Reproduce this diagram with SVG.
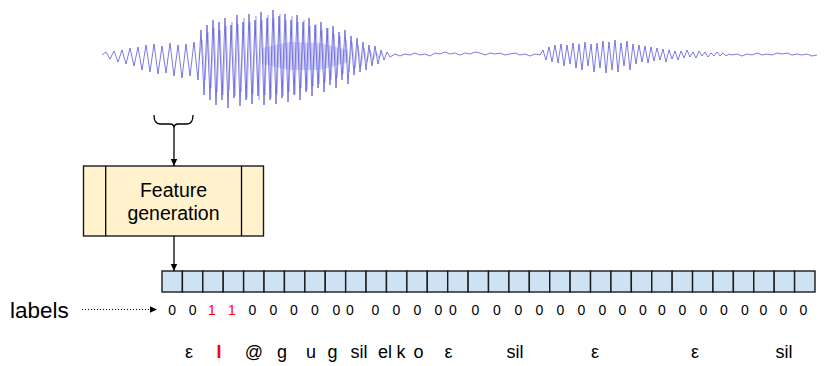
<svg xmlns="http://www.w3.org/2000/svg" width="830" height="366" viewBox="0 0 830 366">
<style>
text{font-family:"Liberation Sans",Arial,sans-serif;fill:#000}
.wave{fill:none;stroke:#4f4fd6;stroke-width:0.75;stroke-linejoin:round}
.wave2{fill:none;stroke:#a4a4e6;stroke-width:0.7;stroke-linejoin:round}
.cell{fill:#cfe2f3;stroke:#1a1a1a;stroke-width:1.4}
.box{fill:#fff2cc;stroke:#1a1a1a;stroke-width:1.4}
.conn{fill:none;stroke:#000;stroke-width:1.3}
.dot{fill:none;stroke:#000;stroke-width:1.2;stroke-dasharray:1 2}
.lbl{font-size:14px;text-anchor:middle}
.red{fill:#ff0000}
.ph{font-size:18px;text-anchor:middle}
</style>
<defs>
<marker id="ah" markerWidth="8" markerHeight="8" refX="7" refY="4" orient="auto" markerUnits="userSpaceOnUse">
<path d="M0,0.8 L7,4 L0,7.2 Z" fill="#000"/>
</marker>
</defs>
<g id="waveform">
<polygon points="262,48 290,42 320,43 348,50 348,62 320,70 290,70 262,64" fill="#8c8cf5" opacity="0.35"/>
<polyline class="wave2" points="199,60 202,40 205,80 208,32 211,88 214,28 217,92 220,30 223,95 226,26 229,90 232,22 235,96 238,24 241,92 244,18 247,98 250,22 253,94 256,16 259,100 262,20 265,95 268,15 271,98 274,18 277,94 280,14 283,96 286,20 289,92 292,16 295,94 298,22 301,88 304,20 307,90 310,26 313,86 316,24 319,84 322,30 325,82 328,28 331,80 334,34 337,78 340,36 343,74 346,40 349,72 352,42 355,68 358,45 361,66 364,48 367,62 370,50 373,60 376,52 379,58 382,53"/>
<polyline class="wave" points="102,55 106,52 110,59 114,51 118,62 122,50 126,64 130,48 134,66 138,47 142,70 146,45 150,72 154,44 158,74 162,46 166,73 170,43 174,76 178,45 182,78 186,44 190,76 194,42 198,80 201,30 204,95 207,25 210,100 213,20 216,105 219,22 222,100 225,18 228,108 231,25 234,98 237,15 240,106 243,22 246,100 249,14 252,104 255,20 258,96 261,12 264,105 267,18 270,100 273,10 276,104 279,16 282,98 285,14 288,102 291,20 294,95 297,15 300,100 303,22 306,92 309,18 312,96 315,25 318,88 321,22 324,92 327,28 330,85 333,26 336,88 339,32 342,80 345,30 348,84 351,36 354,75 357,38 360,72 363,42 366,70 369,45 372,66 375,46 378,64 381,50 384,60 387,52 390,57 395,54 400,56 405,54 410,55 415,53 420,55 425,54 430,56 435,53 440,54 445,52 450,54 455,53 460,55 465,53 470,54 475,52 480,53 485,55 490,53 495,54 500,53 505,55 510,54 515,53 520,55 525,54 530,56 535,54 540,55 543,50 546,60 549,47 552,62 555,45 558,63 561,44 564,66 567,45 570,64 573,43 576,68 579,44 582,70 585,42 588,66 591,44 594,72 597,43 600,68 603,41 606,73 609,42 612,70 615,40 618,72 621,43 624,66 627,41 630,70 633,44 636,64 639,45 642,62 645,46 648,63 651,47 654,61 657,48 660,60 663,49 666,62 669,50 672,59 675,51 678,60 681,51 684,58 687,50 690,57 693,52 696,58 699,51 702,56 705,52 708,57 711,53 714,56 717,52 720,56 723,53 726,56 729,54 732,55 737,54 742,56 747,54 752,55 757,53 762,55 767,54 772,55 777,53 782,54 787,53 792,55 797,54 802,55 807,54 812,56 817,55"/>
</g>
<g id="brace">
<path class="conn" d="M154,115 Q154,124 160,124 L170,124 Q174,124 174,128 Q174,124 178,124 L187,124 Q193,124 193,115"/>
</g>
<g id="feature-generation">
<rect class="box" x="83.5" y="166" width="180" height="70"/>
<line class="conn" x1="105.7" y1="166" x2="105.7" y2="236"/>
<line class="conn" x1="241.5" y1="166" x2="241.5" y2="236"/>
<text x="173.5" y="196.5" font-size="19.5" text-anchor="middle">Feature</text>
<text x="173.5" y="220" font-size="19.5" text-anchor="middle">generation</text>
</g>
<g id="frames">
<rect class="cell" x="162" y="271" width="20.406" height="21"/>
<rect class="cell" x="182.406" y="271" width="20.406" height="21"/>
<rect class="cell" x="202.813" y="271" width="20.406" height="21"/>
<rect class="cell" x="223.219" y="271" width="20.406" height="21"/>
<rect class="cell" x="243.625" y="271" width="20.406" height="21"/>
<rect class="cell" x="264.031" y="271" width="20.406" height="21"/>
<rect class="cell" x="284.438" y="271" width="20.406" height="21"/>
<rect class="cell" x="304.844" y="271" width="20.406" height="21"/>
<rect class="cell" x="325.25" y="271" width="20.406" height="21"/>
<rect class="cell" x="345.656" y="271" width="20.406" height="21"/>
<rect class="cell" x="366.063" y="271" width="20.406" height="21"/>
<rect class="cell" x="386.469" y="271" width="20.406" height="21"/>
<rect class="cell" x="406.875" y="271" width="20.406" height="21"/>
<rect class="cell" x="427.281" y="271" width="20.406" height="21"/>
<rect class="cell" x="447.688" y="271" width="20.406" height="21"/>
<rect class="cell" x="468.094" y="271" width="20.406" height="21"/>
<rect class="cell" x="488.5" y="271" width="20.406" height="21"/>
<rect class="cell" x="508.906" y="271" width="20.406" height="21"/>
<rect class="cell" x="529.313" y="271" width="20.406" height="21"/>
<rect class="cell" x="549.719" y="271" width="20.406" height="21"/>
<rect class="cell" x="570.125" y="271" width="20.406" height="21"/>
<rect class="cell" x="590.531" y="271" width="20.406" height="21"/>
<rect class="cell" x="610.938" y="271" width="20.406" height="21"/>
<rect class="cell" x="631.344" y="271" width="20.406" height="21"/>
<rect class="cell" x="651.75" y="271" width="20.406" height="21"/>
<rect class="cell" x="672.156" y="271" width="20.406" height="21"/>
<rect class="cell" x="692.563" y="271" width="20.406" height="21"/>
<rect class="cell" x="712.969" y="271" width="20.406" height="21"/>
<rect class="cell" x="733.375" y="271" width="20.406" height="21"/>
<rect class="cell" x="753.781" y="271" width="20.406" height="21"/>
<rect class="cell" x="774.188" y="271" width="20.406" height="21"/>
<rect class="cell" x="794.594" y="271" width="20.406" height="21"/>
</g>
<g id="connectors">
<line class="conn" x1="174" y1="128" x2="174" y2="166" marker-end="url(#ah)"/>
<line class="conn" x1="174" y1="236" x2="174" y2="271" marker-end="url(#ah)"/>
<line class="dot" x1="82" y1="309.5" x2="157" y2="309.5" marker-end="url(#ah)"/>
</g>
<g id="labels">
<text x="10" y="318" font-size="22.5">labels</text>
<text class="lbl" x="172.2" y="315">0</text>
<text class="lbl" x="192.6" y="315">0</text>
<text class="lbl red" x="212" y="315">1</text>
<text class="lbl red" x="232" y="315">1</text>
<text class="lbl" x="252.5" y="315">0</text>
<text class="lbl" x="273.5" y="315">0</text>
<text class="lbl" x="294" y="315">0</text>
<text class="lbl" x="314.8" y="315">0</text>
<text class="lbl" x="336.5" y="315">0</text>
<text class="lbl" x="350" y="315">0</text>
<text class="lbl" x="375.5" y="315">0</text>
<text class="lbl" x="396.5" y="315">0</text>
<text class="lbl" x="417.5" y="315">0</text>
<text class="lbl" x="438.5" y="315">0</text>
<text class="lbl" x="453" y="315">0</text>
<text class="lbl" x="475.5" y="315">0</text>
<text class="lbl" x="497" y="315">0</text>
<text class="lbl" x="518.5" y="315">0</text>
<text class="lbl" x="539.5" y="315">0</text>
<text class="lbl" x="560.5" y="315">0</text>
<text class="lbl" x="581.5" y="315">0</text>
<text class="lbl" x="602.5" y="315">0</text>
<text class="lbl" x="622.5" y="315">0</text>
<text class="lbl" x="643" y="315">0</text>
<text class="lbl" x="662" y="315">0</text>
<text class="lbl" x="682.5" y="315">0</text>
<text class="lbl" x="703.3" y="315">0</text>
<text class="lbl" x="724" y="315">0</text>
<text class="lbl" x="745" y="315">0</text>
<text class="lbl" x="763.5" y="315">0</text>
<text class="lbl" x="783.5" y="315">0</text>
<text class="lbl" x="803.5" y="315">0</text>
</g>
<g id="phonemes">
<text class="ph" x="189" y="358">ε</text>
<text class="ph red" x="219" y="358" font-weight="bold">I</text>
<text class="ph" x="254" y="358">@</text>
<text class="ph" x="282" y="358">g</text>
<text class="ph" x="311" y="358">u</text>
<text class="ph" x="332.5" y="358">g</text>
<text class="ph" x="359" y="358">sil</text>
<text class="ph" x="385" y="358">el</text>
<text class="ph" x="401" y="358">k</text>
<text class="ph" x="418.5" y="358">o</text>
<text class="ph" x="448.5" y="358">ε</text>
<text class="ph" x="515" y="358">sil</text>
<text class="ph" x="595" y="358">ε</text>
<text class="ph" x="695" y="358">ε</text>
<text class="ph" x="784" y="358">sil</text>
</g>
</svg>
